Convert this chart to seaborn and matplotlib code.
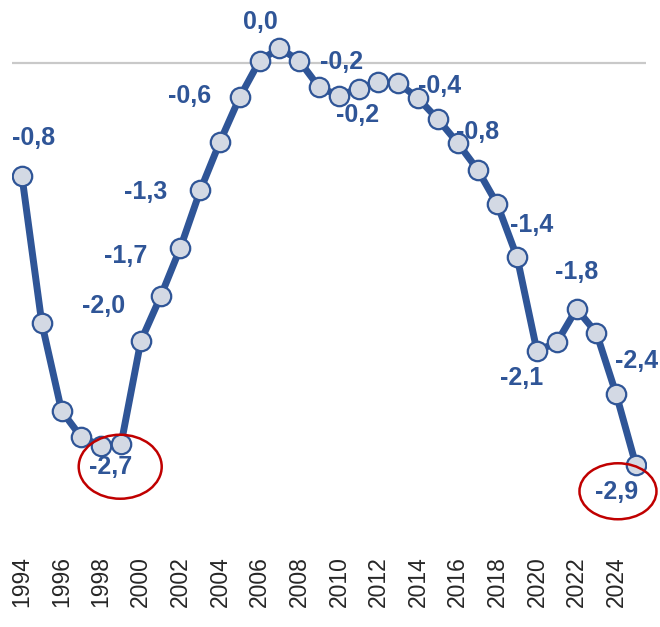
import matplotlib
matplotlib.use('Agg')
import matplotlib.pyplot as plt
import matplotlib.transforms as mtransforms
from matplotlib.patches import Ellipse
import seaborn as sns
import pandas as pd

sns.set_style('white')
plt.rcParams['font.family'] = ['Liberation Sans', 'DejaVu Sans']

# values
years = list(range(1994, 2026))
values = [-0.81, -1.86, -2.49, -2.68, -2.74, -2.73, -1.99, -1.67, -1.32, -0.91,
          -0.56, -0.24, 0.02, 0.11, 0.02, -0.17, -0.23, -0.18, -0.13, -0.14,
          -0.25, -0.40, -0.57, -0.76, -1.01, -1.39, -2.06, -2.00, -1.76, -1.93,
          -2.37, -2.88]

label_years = [1994, 1998, 2000, 2001, 2002, 2004, 2006, 2009, 2010, 2014,
               2017, 2019, 2020, 2022, 2024, 2025]
label_texts = ['-0,8', '-2,7', '-2,0', '-1,7', '-1,3', '-0,6', '0,0', '-0,2', '-0,2', '-0,4',
               '-0,8', '-1,4', '-2,1', '-1,8', '-2,4', '-2,9']
circled_years = [1998, 2025]
tick_years = list(range(1994, 2025, 2))

# label placement (pixel offsets from the point)
label_offsets = [(12, 38), (9, -21), (-37, 35), (-35, 40), (-35, 56), (-30, 46), (1, 39),
                 (22, 25), (19, -19), (21, 12), (0, 38), (14, 32), (-15, -27), (0, 37),
                 (20, 33), (-19, -27)]
ellipse_shift = {1998: (10, 0, 83, 64), 2025: (1, 1, 77, 56)}

blue = '#2F5597'
df = pd.DataFrame({'year': years, 'value': values})

fig = plt.figure(figsize=(6.6, 6.27), dpi=100)
ax = fig.add_axes([0.0183, 0.12, 0.9603, 0.8455])

ax.axhline(0, color='#C9C9C9', lw=1.6, zorder=0)
sns.lineplot(data=df, x='year', y='value', ax=ax, color=blue, lw=5,
             marker='o', markersize=14, markerfacecolor='#D3D9E4',
             markeredgecolor=blue, markeredgewidth=1.6, zorder=2)

for yr, txt, (dx, dy) in zip(label_years, label_texts, label_offsets):
    v = values[years.index(yr)]
    ax.annotate(txt, xy=(yr, v), xytext=(dx, dy), textcoords='offset pixels',
                ha='center', va='center', fontsize=18, fontweight='bold',
                color=blue, zorder=1)
    if yr in circled_years:
        ex, ey, ew, eh = ellipse_shift[yr]
        tr = fig.dpi_scale_trans + mtransforms.ScaledTranslation(yr, v, ax.transData)
        ax.add_patch(Ellipse(((dx + ex) / 100, (dy + ey) / 100), ew / 100, eh / 100,
                             transform=tr, fill=False, ec='#C00000', lw=1.8,
                             zorder=4, clip_on=False))

ax.set_xlim(1993.5, 2025.5)
ax.set_ylim(-3.5, 0.3)
ax.set_xticks(tick_years)
ax.set_xticklabels([str(t) for t in tick_years], rotation=90, fontsize=16.5, color='#262626')
ax.set_yticks([])
ax.tick_params(axis='x', length=0, pad=3)
ax.set_xlabel('')
ax.set_ylabel('')
sns.despine(ax=ax, left=True, bottom=True)

fig.savefig('out.png', dpi=100)
